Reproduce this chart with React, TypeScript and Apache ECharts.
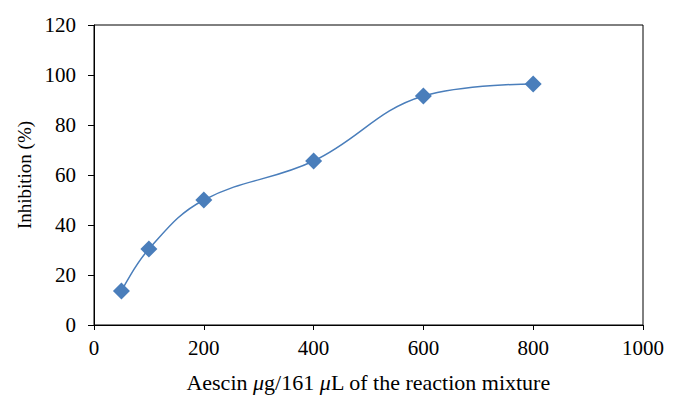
import React, { useEffect, useRef } from "react";
import * as echarts from "echarts";

const xValues = [50, 100, 200, 400, 600, 800];
const inhibition = [13.6, 30.4, 50.0, 65.6, 91.6, 96.4];
const xTicks = [0, 200, 400, 600, 800, 1000];
const yTicks = [0, 20, 40, 60, 80, 100, 120];

export default function App() {
  const ref = useRef<HTMLDivElement>(null);
  useEffect(() => {
    if (!ref.current) return;
    const chart = echarts.init(ref.current, null, { renderer: "svg" });
    const font = "'Liberation Serif', 'DejaVu Serif', serif";
    chart.setOption({
      animation: false,
      backgroundColor: "#fff",
      grid: {
        left: 94,
        right: 31,
        top: 25,
        bottom: 82,
        show: true,
        borderColor: "#000",
        borderWidth: 1,
      },
      xAxis: {
        type: "value",
        min: xTicks[0],
        max: xTicks[xTicks.length - 1],
        interval: 200,
        axisLine: { show: true, onZero: false, lineStyle: { color: "#000", width: 1 } },
        axisTick: { show: true, length: 5, inside: false, lineStyle: { color: "#000" } },
        splitLine: { show: false },
        axisLabel: {
          color: "#000",
          fontFamily: font,
          fontSize: 21,
          margin: 12,
          formatter: (v: number) => String(v),
        },
        name: "Aescin {i|μ}g/161 {i|μ}L of the reaction mixture",
        nameLocation: "middle",
        nameGap: 46,
        nameTextStyle: {
          color: "#000",
          fontFamily: font,
          fontSize: 22,
          rich: { i: { fontStyle: "italic", fontFamily: font, fontSize: 22, color: "#000" } },
        },
      },
      yAxis: {
        type: "value",
        min: yTicks[0],
        max: yTicks[yTicks.length - 1],
        interval: 20,
        axisLine: { show: true, lineStyle: { color: "#000", width: 1 } },
        axisTick: { show: true, length: 6, inside: false, lineStyle: { color: "#000" } },
        splitLine: { show: false },
        axisLabel: {
          color: "#000",
          fontFamily: font,
          fontSize: 21,
          margin: 18,
          formatter: (v: number) => String(v),
        },
        name: "Inhibition (%)",
        nameLocation: "middle",
        nameGap: 60,
        nameTextStyle: { color: "#000", fontFamily: font, fontSize: 19 },
      },
      series: [
        {
          type: "line",
          data: xValues.map((x, i) => [x, inhibition[i]]),
          smooth: 0.4,
          symbol: "diamond",
          symbolSize: 17,
          lineStyle: { color: "#4A7EBB", width: 1.5 },
          itemStyle: { color: "#4A7EBB" },
        },
      ],
    });
    return () => chart.dispose();
  }, []);
  return (
    <div
      ref={ref}
      style={{ position: "absolute", left: 0, top: 0, width: 674, height: 407 }}
    />
  );
}
